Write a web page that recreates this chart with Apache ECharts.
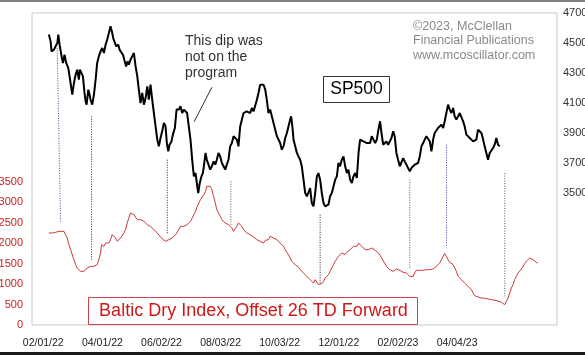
<!DOCTYPE html>
<html>
<head>
<meta charset="utf-8">
<style>
html,body{margin:0;padding:0;background:#fff;}
#chart{width:585px;height:355px;}
</style>
<script src="https://cdn.jsdelivr.net/npm/echarts@6/dist/echarts.min.js"></script>
</head>
<body>
<div id="chart"></div>
<script>
// x = trading days relative to 02/01/22
var xTickValues = [0, 42, 84, 126, 168, 210, 252, 294];
var xTickLabels = ['02/01/22', '04/01/22', '06/02/22', '08/03/22', '10/03/22', '12/01/22', '02/02/23', '04/04/23'];
var bdiTicks = [0, 500, 1000, 1500, 2000, 2500, 3000, 3500];
var spTicks = [3500, 3700, 3900, 4100, 4300, 4500, 4700];

var sp500 = [
[4.0,4556],[5.2,4511],[5.9,4444],[7.6,4456],[8.8,4478],[10.0,4500],[10.7,4556],[11.6,4489],[13.0,4411],[14.0,4367],
[15.1,4422],[16.3,4367],[17.8,4333],[18.7,4278],[20.1,4189],[20.6,4156],[21.8,4233],[23.0,4289],[24.1,4322],[25.3,4256],
[26.0,4322],[27.2,4311],[28.2,4278],[29.3,4167],[30.1,4111],[30.8,4089],[32.0,4189],[32.9,4156],[33.6,4122],[34.8,4089],
[36.0,4156],[37.2,4256],[38.3,4367],[39.5,4411],[40.7,4444],[41.9,4467],[43.1,4433],[44.3,4489],[45.4,4522],[46.6,4567],
[47.8,4611],[49.0,4567],[49.7,4533],[50.9,4544],[51.8,4478],[53.3,4489],[54.2,4456],[55.6,4467],[56.6,4422],[57.8,4411],
[58.9,4344],[59.9,4378],[60.8,4356],[62.0,4389],[63.2,4389],[64.4,4433],[65.6,4344],[66.8,4278],[67.9,4189],[69.1,4100],
[70.3,4167],[71.5,4089],[72.7,4133],[73.9,4211],[75.0,4122],[76.2,4222],[77.4,4122],[78.6,4033],[79.8,3944],[81.0,3856],
[82.1,3811],[83.3,3867],[84.5,3911],[85.7,3967],[86.9,3944],[87.8,3833],[88.8,3778],[89.7,3822],[91.1,3844],[92.1,3889],
[93.5,3933],[94.7,4056],[96.3,4056],[97.5,4078],[98.7,4033],[99.9,4056],[101.1,4067],[102.2,4033],[103.4,3944],[104.6,3856],
[105.8,3722],[107.0,3611],[108.2,3633],[109.4,3544],[110.1,3500],[111.2,3567],[112.4,3611],[113.4,3633],[114.1,3678],[115.3,3767],
[116.2,3722],[117.4,3689],[118.6,3656],[119.8,3678],[121.0,3711],[122.2,3689],[123.3,3722],[124.5,3767],[125.7,3744],[126.9,3700],
[128.1,3678],[129.3,3656],[130.4,3689],[131.6,3722],[132.8,3811],[134.0,3833],[135.2,3878],[136.4,3867],[137.5,3856],[138.7,3811],
[139.9,3944],[141.1,3989],[142.3,4033],[143.5,4022],[144.6,4044],[145.8,4056],[147.0,4033],[148.2,4067],[149.4,4044],[150.6,4056],
[151.8,4122],[152.9,4167],[154.1,4222],[155.3,4233],[156.5,4222],[157.7,4189],[158.8,4122],[160.0,4033],[161.2,4056],[162.4,4011],
[163.6,3967],[164.8,3922],[166.0,3878],[167.1,3867],[168.3,3833],[169.5,3789],[170.7,3811],[171.9,3867],[173.1,3900],[174.2,3944],
[175.4,3989],[176.1,4011],[177.1,3933],[177.8,3856],[179.0,3811],[180.2,3767],[181.3,3744],[182.5,3722],[183.7,3678],[184.9,3589],
[186.1,3500],[187.3,3478],[188.4,3489],[189.6,3533],[190.8,3433],[192.0,3411],[193.2,3500],[194.4,3611],[195.5,3633],[196.7,3589],
[197.9,3500],[199.1,3433],[200.3,3411],[201.5,3400],[202.6,3422],[203.8,3478],[205.0,3500],[206.2,3544],[207.4,3589],[208.6,3611],
[209.7,3700],[210.9,3678],[212.1,3722],[213.3,3744],[214.5,3678],[215.7,3633],[216.8,3656],[218.0,3589],[219.2,3567],[220.4,3611],
[221.6,3633],[222.8,3600],[224.0,3767],[225.1,3856],[226.3,3867],[227.5,3844],[228.7,3856],[229.9,3833],[231.0,3822],[232.2,3833],
[233.4,3878],[234.6,3856],[235.8,3833],[237.0,3856],[238.1,3922],[239.3,3978],[240.3,3900],[241.5,3822],[242.6,3833],[243.8,3844],
[245.0,3822],[246.2,3822],[247.4,3867],[248.6,3911],[249.7,3878],[250.9,3767],[252.1,3722],[253.3,3678],[254.5,3689],[255.7,3733],
[256.8,3711],[258.0,3689],[259.2,3678],[260.4,3644],[261.6,3667],[262.8,3678],[263.9,3689],[265.1,3678],[266.3,3700],[267.5,3744],
[268.7,3811],[269.9,3833],[271.0,3856],[272.2,3878],[273.4,3878],[274.6,3844],[275.8,3778],[277.0,3856],[278.1,3900],[279.3,3911],
[280.5,3933],[281.7,3922],[282.9,3956],[284.1,3933],[285.2,3978],[286.4,4033],[287.6,4089],[288.8,4056],[290.0,4033],[291.2,4067],
[292.3,4011],[293.5,3989],[294.7,4011],[295.9,4033],[297.1,4044],[298.3,3978],[299.4,3944],[300.6,3889],[301.8,3878],[303.0,3867],
[304.2,3856],[305.4,3844],[306.5,3833],[307.7,3856],[308.9,3922],[310.1,3933],[311.3,3900],[312.5,3856],[313.6,3811],[314.8,3767],
[316.0,3722],[317.2,3767],[318.4,3756],[319.6,3800],[320.7,3822],[321.9,3867],[322.6,3878],[323.1,3822],[324.3,3811]
];

var bdi = [
[4.0,2244],[6.4,2244],[8.8,2260],[11.1,2285],[14.7,2285],[15.9,2244],[17.0,2122],[18.2,1960],[19.4,1838],[20.6,1716],
[21.8,1594],[23.0,1472],[24.1,1390],[25.3,1350],[26.5,1309],[27.7,1285],[28.9,1309],[30.1,1350],[31.2,1390],[32.4,1415],
[33.6,1431],[34.8,1431],[36.0,1431],[37.2,1415],[38.3,1472],[39.5,1594],[40.7,1756],[41.4,1960],[42.4,1960],[43.1,1919],
[44.3,2000],[45.4,2041],[46.6,2000],[47.8,2082],[49.0,2204],[50.2,2244],[51.4,2122],[52.6,2041],[53.7,2082],[54.9,2122],
[56.1,2163],[57.3,2244],[58.5,2326],[59.6,2488],[60.8,2610],[62.0,2732],[63.2,2732],[64.4,2691],[65.6,2651],[66.8,2569],
[67.9,2586],[69.1,2569],[70.3,2529],[71.5,2529],[72.7,2488],[73.9,2447],[75.0,2447],[76.2,2407],[77.4,2366],[78.6,2326],
[79.8,2285],[81.0,2244],[82.1,2204],[83.3,2147],[84.5,2098],[85.7,2065],[86.9,2041],[88.1,2041],[89.2,2082],[90.4,2082],
[91.6,2122],[92.8,2122],[94.0,2204],[95.2,2244],[96.3,2326],[97.5,2407],[98.7,2447],[99.9,2407],[101.1,2423],[102.2,2447],
[103.4,2488],[104.6,2529],[105.8,2610],[107.0,2691],[108.2,2773],[109.4,2895],[110.5,2976],[111.7,3057],[112.9,3098],[114.1,3179],
[115.3,3260],[116.2,3382],[117.4,3423],[118.6,3382],[119.8,3301],[121.0,3139],[122.2,2976],[123.3,2813],[124.5,2732],[125.7,2651],
[126.9,2569],[128.1,2529],[129.3,2488],[130.4,2529],[131.6,2447],[132.8,2407],[134.0,2366],[135.2,2285],[136.4,2326],[137.5,2407],
[138.7,2488],[139.9,2529],[141.1,2407],[142.3,2326],[143.5,2285],[144.6,2244],[145.8,2244],[147.0,2204],[148.2,2163],[149.4,2147],
[150.6,2122],[151.8,2082],[152.9,2082],[154.1,2041],[155.3,2017],[156.5,2000],[157.7,2065],[158.8,2098],[160.0,2082],[161.2,2163],
[162.4,2163],[163.6,2122],[164.8,2082],[166.0,2082],[167.1,2041],[168.3,2000],[169.5,1960],[170.7,1919],[171.9,1838],[173.1,1773],
[174.2,1716],[175.4,1675],[176.6,1553],[177.8,1513],[179.0,1472],[180.2,1431],[181.3,1415],[182.5,1350],[183.7,1309],[184.9,1269],
[186.1,1228],[187.3,1187],[188.4,1147],[189.6,1106],[190.8,1065],[192.0,1025],[193.2,1106],[194.4,1065],[195.5,984],[196.7,943],
[197.9,1008],[199.1,1065],[200.3,1147],[201.5,1187],[202.6,1228],[203.8,1309],[205.0,1391],[206.2,1472],[207.4,1553],[208.6,1594],
[209.7,1675],[210.9,1716],[212.1,1756],[213.3,1756],[214.5,1716],[215.7,1773],[216.8,1797],[218.0,1838],[219.2,1879],[220.4,1919],
[221.6,1935],[222.8,1919],[224.0,2000],[225.1,1960],[226.3,1919],[227.5,1878],[228.7,1838],[229.9,1797],[231.0,1838],[232.2,1854],
[233.4,1878],[234.6,1854],[235.8,1821],[237.0,1797],[238.1,1756],[239.3,1716],[240.5,1635],[241.7,1553],[242.9,1513],[243.8,1431],
[245.0,1391],[246.2,1350],[247.4,1309],[248.6,1309],[249.7,1334],[250.9,1366],[252.1,1350],[253.3,1334],[254.5,1309],[255.7,1285],
[256.8,1285],[258.0,1269],[259.2,1228],[260.4,1187],[261.6,1147],[262.8,1187],[263.9,1269],[265.1,1334],[266.3,1350],[267.5,1334],
[268.7,1350],[269.9,1334],[271.0,1350],[272.2,1350],[273.4,1366],[274.6,1350],[275.8,1391],[277.0,1366],[278.1,1391],[279.3,1431],
[280.5,1472],[281.7,1513],[282.9,1553],[284.1,1675],[285.2,1740],[286.4,1675],[287.6,1594],[288.8,1529],[290.0,1496],[291.2,1472],
[292.3,1431],[293.5,1309],[294.7,1187],[295.9,1147],[297.1,1106],[298.3,1065],[299.4,1025],[300.6,984],[301.8,943],[303.0,903],
[304.2,862],[305.4,781],[306.5,716],[307.7,683],[308.9,683],[310.1,675],[311.3,659],[312.5,651],[313.6,651],[314.8,643],
[316.0,635],[317.2,618],[318.4,618],[319.6,602],[320.7,602],[321.9,602],[323.1,586],[324.3,578],[325.5,553],[326.7,537],
[327.8,496],[329.0,537],[330.2,659],[331.4,781],[332.6,903],[333.8,984],[334.9,1106],[336.1,1187],[337.3,1269],[338.5,1309],
[339.7,1366],[340.9,1431],[342.0,1496],[343.2,1553],[344.4,1594],[345.6,1634],[346.8,1594],[348.0,1594],[349.1,1553],[350.3,1529],
[351.5,1513]
];

// dotted connectors: [xTop, spTop, xBottom, spBottom] in trading days / SP500 units
var connectors = [
[9.9,4467,12.3,3300],
[34.3,4011,34.3,3044],
[88.1,3722,88.1,3222],
[133.3,3578,133.3,3278],
[196.7,3356,196.7,2900],
[260.4,3589,260.4,3000],
[286.5,3822,286.5,3144],
[327.9,3633,327.9,2811]
];
var connectorColors = ['#4a4aa8','#333333','#222222','#555555','#222222','#555566','#4040b0','#555555'];
var pointer = [[119.8,4205],[107.2,3975]];

var chart = echarts.init(document.getElementById('chart'), null, {renderer:'canvas'});
var FONT = "'Liberation Sans', Arial, sans-serif";

var series = [
  {type:'line', name:'BDI', yAxisIndex:0, data:bdi, showSymbol:false, symbol:'none',
   lineStyle:{color:'#cc3838', width:1}, z:3, silent:true},
  {type:'line', name:'SP500', yAxisIndex:1, data:sp500, showSymbol:false, symbol:'none',
   lineStyle:{color:'#000', width:2}, z:4, silent:true},
  {type:'line', name:'pointer', yAxisIndex:1, data:pointer, showSymbol:false, symbol:'none',
   lineStyle:{color:'#333', width:1}, z:5, silent:true}
];
connectors.forEach(function(c, i){
  series.push({type:'line', yAxisIndex:1, data:[[c[0],c[1]],[c[2],c[3]]], showSymbol:false, symbol:'none',
    lineStyle:{color:connectorColors[i], width:1, type:[1,1.5]}, z:2, silent:true});
});

function plain(v){ return String(v); }

chart.setOption({
  animation:false,
  backgroundColor:'#fff',
  grid:{left:32, right:28, top:13, bottom:30, containLabel:false, outerBoundsMode:'none',
        show:true, borderColor:'#c8c8c8', borderWidth:1, backgroundColor:'#fff'},
  xAxis:{type:'value', min:-8, max:365,
    axisLine:{show:false}, axisTick:{show:false}, splitLine:{show:false},
    axisLabel:{customValues:xTickValues, margin:13, color:'#222', fontSize:10.5, fontFamily:FONT,
      formatter:function(v){var i = xTickValues.indexOf(v); return i>=0 ? xTickLabels[i] : '';}}
  },
  yAxis:[
    {type:'value', min:0, max:7610, position:'left',
     axisLine:{show:false}, axisTick:{show:false}, splitLine:{show:false},
     axisLabel:{customValues:bdiTicks, margin:9, color:'#cc2020', fontSize:11, fontFamily:FONT, formatter:plain}},
    {type:'value', min:2620, max:4700, position:'right',
     axisLine:{show:false}, axisTick:{show:false}, splitLine:{show:false},
     axisLabel:{customValues:spTicks, margin:6, color:'#333', fontSize:11, fontFamily:FONT, formatter:plain}}
  ],
  series:series,
  graphic:[
    {type:'rect', shape:{x:0,y:0,width:585,height:2}, style:{fill:'#808080'}, silent:true},
    {type:'rect', shape:{x:0,y:352,width:585,height:3}, style:{fill:'#1a1a1a'}, silent:true},
    {type:'text', left:185, top:33, silent:true, z:10,
     style:{text:'This dip was\nnot on the\nprogram', fill:'#333', font:"14px 'Liberation Sans', Arial, sans-serif", lineHeight:16.2}},
    {type:'text', left:413, top:19, silent:true, z:10,
     style:{text:'\u00a92023, McClellan\nFinancial Publications\nwww.mcoscillator.com', fill:'#8a8a8a', font:"12.5px 'Liberation Sans', Arial, sans-serif", lineHeight:14.5}},
    {type:'rect', shape:{x:323.5,y:76.5,width:66,height:26}, style:{fill:'#fff', stroke:'#333', lineWidth:1}, z:10, silent:true},
    {type:'text', x:356.5, y:89.5, silent:true, z:11,
     style:{text:'SP500', fill:'#000', font:"17.5px 'Liberation Sans', Arial, sans-serif", align:'center', verticalAlign:'middle'}},
    {type:'rect', shape:{x:88.5,y:297.5,width:329,height:27}, style:{fill:'#fff', stroke:'#c84848', lineWidth:1}, z:10, silent:true},
    {type:'text', x:253.5, y:311.5, silent:true, z:11,
     style:{text:'Baltic Dry Index, Offset 26 TD Forward', fill:'#d01818', font:"18px 'Liberation Sans', Arial, sans-serif", align:'center', verticalAlign:'middle'}}
  ]
});
</script>
</body>
</html>
